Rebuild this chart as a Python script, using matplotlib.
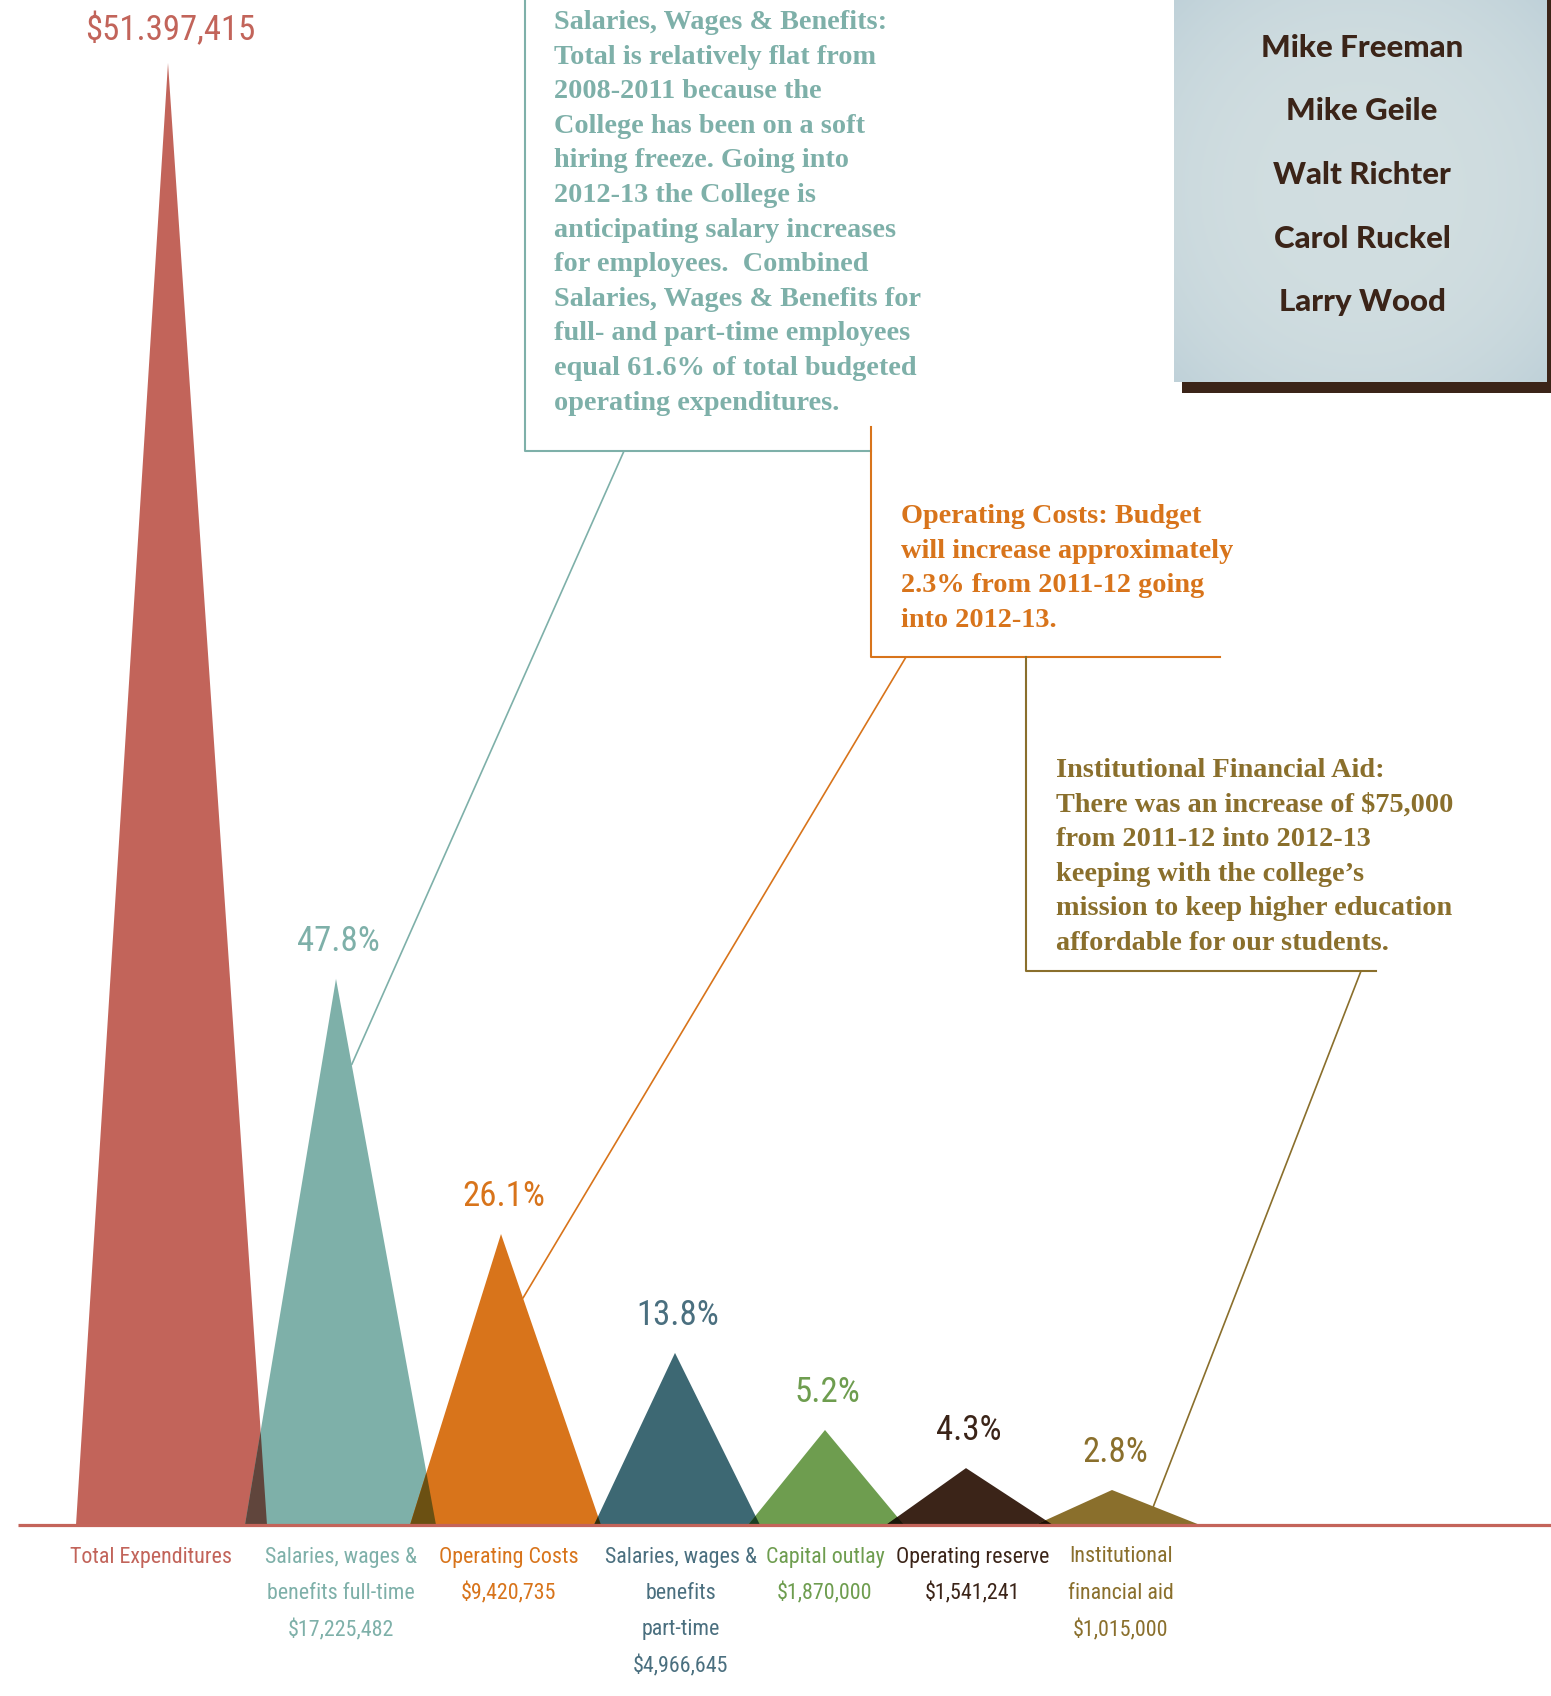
import numpy as np
import matplotlib
matplotlib.use("Agg")
import matplotlib.pyplot as plt
from matplotlib import font_manager
from matplotlib.colors import to_rgb
from matplotlib.patches import Rectangle, ConnectionPatch

# ---- data read from the graphic ----
categories = ["Total Expenditures",
              "Salaries, wages &\nbenefits full-time",
              "Operating Costs",
              "Salaries, wages &\nbenefits\npart-time",
              "Capital outlay",
              "Operating reserve",
              "Institutional\nfinancial aid"]
amounts = [51397415, 17225482, 9420735, 4966645, 1870000, 1541241, 1015000]
shares = [None, 47.8, 26.1, 13.8, 5.2, 4.3, 2.8]
top_label = "$51.397,415"
# peak heights as drawn (in $M on the scale of the total's triangle)
drawn_heights = [51.397, 19.2, 10.23, 6.05, 3.34, 2.0, 1.23]
colors = ["#c2645a", "#7eb0a9", "#d8741b", "#3d6873", "#6e9d4f", "#3b2418", "#8a6f2c"]
label_colors = ["#c2645a", "#7eb0a9", "#d8741b", "#4a6f7f", "#6e9d4f", "#3b2418", "#8a6f2c"]

names = ["Mike Freeman", "Mike Geile", "Walt Richter", "Carol Ruckel", "Larry Wood"]

note_salaries = ["Salaries, Wages & Benefits:",
                 "Total is relatively flat from",
                 "2008-2011 because the",
                 "College has been on a soft",
                 "hiring freeze. Going into",
                 "2012-13 the College is",
                 "anticipating salary increases",
                 "for employees.  Combined",
                 "Salaries, Wages & Benefits for",
                 "full- and part-time employees",
                 "equal 61.6% of total budgeted",
                 "operating expenditures."]
note_operating = ["Operating Costs: Budget",
                  "will increase approximately",
                  "2.3% from 2011-12 going",
                  "into 2012-13."]
note_aid = ["Institutional Financial Aid:",
            "There was an increase of $75,000",
            "from 2011-12 into 2012-13",
            "keeping with the college\u2019s",
            "mission to keep higher education",
            "affordable for our students."]

# ---- layout (pixels) ----
W, H = 1551, 1696
BASE_PX = 1525
apex_x = [168, 336, 501, 675, 825, 966, 1112]
base_l = [76, 245, 410, 594, 748, 886, 1035]
base_r = [267, 436, 601, 760, 904, 1053, 1200]
label_x = [151, 341, 509, 681, 825, 973, 1121]

avail = {f.name for f in font_manager.fontManager.ttflist}
def pick(*cands):
    for c in cands:
        if c in avail:
            return c
    return "DejaVu Sans"

COND = pick("Roboto Condensed", "Liberation Sans Narrow", "Open Sans Condensed", "DejaVu Sans")
SERIF = pick("Liberation Serif", "DejaVu Serif")
SANS = pick("Lato", "Open Sans", "DejaVu Sans")
shrink = 1.0 if COND != "DejaVu Sans" else 0.78

fig = plt.figure(figsize=(W / 100, H / 100), dpi=100)
fig.patch.set_facecolor("white")

px_per_m = (BASE_PX - 63) / drawn_heights[0]
ax = fig.add_axes([0, 0, 1, 1])
ax.set_xlim(0, W)
ax.set_ylim(-(H - BASE_PX) / px_per_m, BASE_PX / px_per_m)
ax.axis("off")

ov = fig.add_axes([0, 0, 1, 1], zorder=2)
ov.patch.set_alpha(0)

# triangles
for i in range(len(amounts)):
    ax.fill([base_l[i], apex_x[i], base_r[i]], [0, drawn_heights[i], 0],
            color=colors[i], lw=0, zorder=2)

# darker overlaps between neighbours (multiply blend)
for i in range(len(amounts) - 1):
    xa, ha, xr = apex_x[i], drawn_heights[i], base_r[i]
    xb, hb, xl = apex_x[i + 1], drawn_heights[i + 1], base_l[i + 1]
    t = (xl - xr) / ((xa - xr) - (xb - xl) * ha / hb)
    mixed = np.array(to_rgb(colors[i])) * np.array(to_rgb(colors[i + 1]))
    ax.fill([xl, xr + (xa - xr) * t, xr], [0, ha * t, 0], color=mixed, lw=0, zorder=3)

ax.plot([18, W], [0, 0], color="#c4645a", lw=2.3, zorder=4, solid_capstyle="butt")

# value labels above the peaks
for i, s in enumerate(shares):
    txt = top_label if s is None else f"{s}%"
    ax.annotate(txt, (apex_x[i], drawn_heights[i]), xytext=(2, 24 if s is None else 27),
                textcoords="offset points", ha="center", va="center",
                color=label_colors[i], fontsize=25 * shrink, family=COND,
                fontstretch="condensed", zorder=5)

# category labels
for i, cat in enumerate(categories):
    lines = cat.split("\n")
    if i > 0:
        lines.append("${:,}".format(amounts[i]))
    for j, ln in enumerate(lines):
        ov.text(label_x[i], 1557 + 36.5 * j, ln, ha="center", va="center",
                color=label_colors[i], fontsize=15.8 * shrink, family=COND,
                fontstretch="condensed")

# note boxes
def note(lines, x, y0, color):
    for j, ln in enumerate(lines):
        ov.text(x, y0 + 34.6 * j, ln, ha="left", va="baseline", color=color,
                fontsize=20.3, family=SERIF, fontweight="bold")

note(note_salaries, 554, 29, colors[1])
note(note_operating, 901, 523, colors[2])
note(note_aid, 1056, 777, colors[6])

ov.plot([525, 525, 871], [0, 451, 451], color=colors[1], lw=1.5)
ov.plot([871, 871, 1220], [427, 657, 657], color=colors[2], lw=1.5)
ov.plot([1026, 1026, 1376], [657, 971, 971], color=colors[6], lw=1.5)

leaders = [((624, 451), 1, 0.157), ((906, 657), 2, 0.22), ((1361, 971), 6, 0.47)]
for (sx, sy), i, frac in leaders:
    ex = apex_x[i] + (base_r[i] - apex_x[i]) * frac
    ey = drawn_heights[i] * (1 - frac)
    fig.add_artist(ConnectionPatch(xyA=(sx, sy), coordsA=ov.transData,
                                   xyB=(ex, ey), coordsB=ax.transData,
                                   color=colors[i], lw=1.2, zorder=6))

# names panel with shadow
ov.add_patch(Rectangle((1182, 0), W - 1182, 393, color="#3b2418", lw=0, zorder=1))
yy, xx = np.mgrid[-1:1:200j, -1:1:200j]
r = np.sqrt(xx ** 2 + yy ** 2) / np.sqrt(2)
c0, c1 = np.array([0.82, 0.87, 0.88]), np.array([0.75, 0.82, 0.85])
img = c0 + (c1 - c0) * (r ** 3)[..., None]
ov.imshow(img, extent=(1174, 1547, 382, 0), aspect="auto", zorder=2)
for j, nm in enumerate(names):
    ov.text(1362, 48 + 63.5 * j, nm, ha="center", va="center", color="#3b2418",
            fontsize=22.5, family=SANS, fontweight="black", zorder=3)

ov.set_xlim(0, W)
ov.set_ylim(H, 0)
ov.axis("off")

fig.savefig("out.png", dpi=100)
